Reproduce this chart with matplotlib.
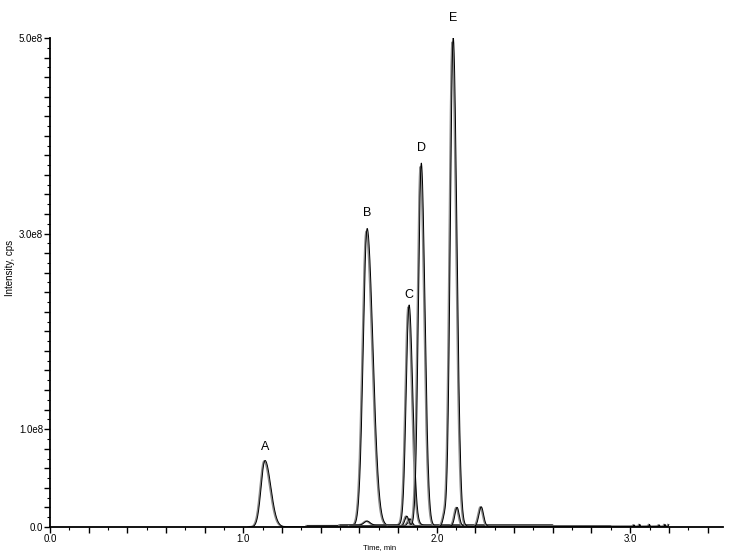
import numpy as np
import matplotlib
matplotlib.use("Agg")
import matplotlib.pyplot as plt
from matplotlib.ticker import MultipleLocator, FuncFormatter

plt.rcParams["font.family"] = ["Liberation Sans", "DejaVu Sans"]

# Peak parameters (time in min, intensity in cps)
peak_names = ["A", "B", "C", "D", "E"]
peak_times = [1.112, 1.640, 1.857, 1.920, 2.085]
peak_heights = [0.68e8, 3.04e8, 2.25e8, 3.71e8, 5.00e8]
sigma_left = [0.020, 0.020, 0.015, 0.015, 0.015]
sigma_right = [0.030, 0.030, 0.019, 0.019, 0.019]
window_start = [1.03, 1.33, 1.50, 1.55, 1.75]
window_end = [1.60, 2.40, 2.60, 2.90, 3.20]
baseline = [0.00, 0.012e8, 0.020e8, 0.010e8, 0.006e8]

# small side peaks: (trace index, time, height, sigma)
minor_trace = [2, 3, 1, 4, 3, 4, 2, 1]
minor_times = [1.640, 1.845, 1.862, 2.040, 2.105, 2.230, 2.860, 2.850]
minor_heights = [0.04e8, 0.10e8, 0.07e8, 0.09e8, 0.19e8, 0.20e8, 0.045e8, 0.03e8]
minor_sigma = [0.015, 0.010, 0.010, 0.009, 0.011, 0.012, 0.020, 0.020]

# noise spikes near the end of the run
spike_times = [3.02, 3.05, 3.10, 3.15, 3.18, 3.20]
spike_heights = [0.015e8, 0.02e8, 0.02e8, 0.015e8, 0.02e8, 0.018e8]

label_offset = [0.08e8, 0.11e8, 0.06e8, 0.10e8, 0.14e8]


def asym_peak(t, t0, h, sl, sr):
    s = np.where(t < t0, sl, sr)
    return h * np.exp(-0.5 * ((t - t0) / s) ** 2)


fig = plt.figure(figsize=(7.32, 5.58), dpi=100)
ax = fig.add_axes([0.0683, 0.0556, 0.9194, 0.8764])

for i in range(len(peak_names)):
    t = np.linspace(window_start[i], window_end[i], 3000)
    y = baseline[i] + asym_peak(t, peak_times[i], peak_heights[i], sigma_left[i], sigma_right[i])
    for k in range(len(minor_trace)):
        if minor_trace[k] == i:
            y = y + asym_peak(t, minor_times[k], minor_heights[k], minor_sigma[k], minor_sigma[k])
    if i == 4:
        for st, sh in zip(spike_times, spike_heights):
            y = y + asym_peak(t, st, sh, 0.002, 0.002)
    # two overlaid replicate injections: gray and black
    ax.plot(t - 0.005, y * 0.99, color="#8a8a8a", lw=1.3)
    ax.plot(t, y, color="black", lw=0.7)
    ax.text(peak_times[i], peak_heights[i] + label_offset[i], peak_names[i],
            ha="center", va="bottom", fontsize=9)

ax.set_xlim(0, 3.48)
ax.set_ylim(0, 5.0e8)

ax.spines["top"].set_visible(False)
ax.spines["right"].set_visible(False)
ax.spines["left"].set_linewidth(1.3)
ax.spines["bottom"].set_linewidth(1.3)

ax.xaxis.set_major_locator(MultipleLocator(0.2))
ax.xaxis.set_minor_locator(MultipleLocator(0.1))
ax.xaxis.set_major_formatter(FuncFormatter(
    lambda v, p: f"{v:.1f}" if abs(v - round(v)) < 1e-6 else ""))
ax.yaxis.set_major_locator(MultipleLocator(0.2e8))
ax.yaxis.set_minor_locator(MultipleLocator(0.1e8))
ax.yaxis.set_major_formatter(FuncFormatter(
    lambda v, p: f"{v / 1e8:.1f}e8" if round(v / 1e8, 1) in (1.0, 3.0, 5.0)
    else ("0.0" if abs(v) < 1 else "")))
ax.tick_params(axis="both", which="major", length=4, width=1, labelsize=7, pad=1)
ax.tick_params(axis="both", which="minor", length=2, width=0.8)

ax.set_xlabel("Time, min", fontsize=5.5)
ax.set_ylabel("Intensity, cps", fontsize=7)
ax.xaxis.set_label_coords(0.49, -0.035)
ax.yaxis.set_label_coords(-0.052, 0.53)

fig.savefig("out.png", dpi=100)
